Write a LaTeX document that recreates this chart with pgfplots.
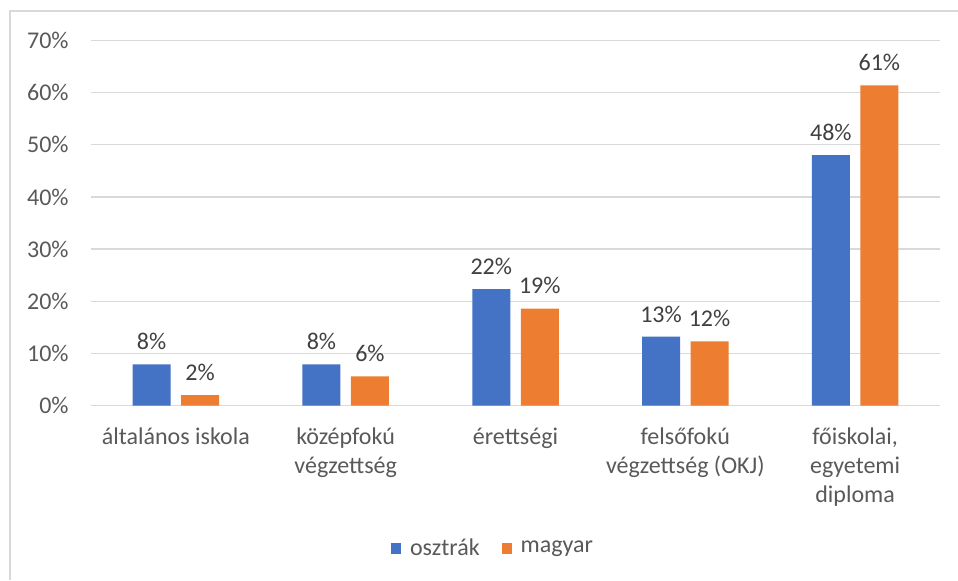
\documentclass[border=0pt]{standalone}
\usepackage{pgfplots}
\pgfplotsset{compat=1.18}
\usepackage{fontspec}
\setmainfont{Carlito}
\definecolor{cblue}{HTML}{4472C4}
\definecolor{corange}{HTML}{ED7D31}
\definecolor{cgrid}{HTML}{D9D9D9}
\definecolor{ctick}{HTML}{595959}
\definecolor{clab}{HTML}{404040}
\begin{document}
\fontsize{12}{14.5}\selectfont
\begin{tikzpicture}
\begin{axis}[
  at={(45.5pt,87.25pt)}, anchor=south west,
  scale only axis, width=424.5pt, height=182.5pt,
  ybar=5.25pt, bar width=19pt,
  xmin=-0.5, xmax=4.5, ymin=0, ymax=70,
  ytick={0,10,...,70},
  yticklabel={\pgfmathprintnumber{\tick}\%},
  /pgf/number format/assume math mode=true,
  xtick={0,1,2,3,4},
  xticklabels={{általános iskola}, {középfokú\\végzettség}, {érettségi}, {felsőfokú\\végzettség (OKJ)}, {főiskolai,\\egyetemi\\diploma}},
  xticklabel style={align=center, text=ctick, font=\fontsize{12}{14.5}\selectfont, yshift=-7pt},
  yticklabel style={text=ctick, font=\fontsize{12}{14.5}\selectfont, xshift=-7pt},
  major tick length=0pt,
  axis line style={draw=none},
  ymajorgrids, grid style={cgrid, line width=0.65pt},
  nodes near coords={\pgfmathprintnumber[fixed,precision=0]{\pgfplotspointmeta}\%},
  nodes near coords style={text=clab, font=\fontsize{12}{14.5}\selectfont, yshift=3pt},
  legend style={draw=none, at={(0.4747,-0.392)}, anchor=center, legend columns=2,
    text=ctick, font=\fontsize{12}{14.5}\selectfont,
    /tikz/every even column/.append style={column sep=9pt}},
  legend image code/.code={\fill[#1] (0pt,-2.6pt) rectangle (5.2pt,2.6pt); \path (7.5pt,0pt);},
]
\addplot[fill=cblue, draw=none] coordinates {(0,7.9) (1,7.9) (2,22.3) (3,13.2) (4,48.0)};
\addplot[fill=corange, draw=none] coordinates {(0,2.0) (1,5.6) (2,18.6) (3,12.3) (4,61.4)};
\legend{osztrák, magyar}
\end{axis}
\draw[cgrid, line width=0.6pt] (5pt,0pt) -- (5pt,284.5pt) -- (479pt,284.5pt);
\pgfresetboundingbox
\useasboundingbox (0,0) rectangle (479pt,290pt);
\end{tikzpicture}
\end{document}
